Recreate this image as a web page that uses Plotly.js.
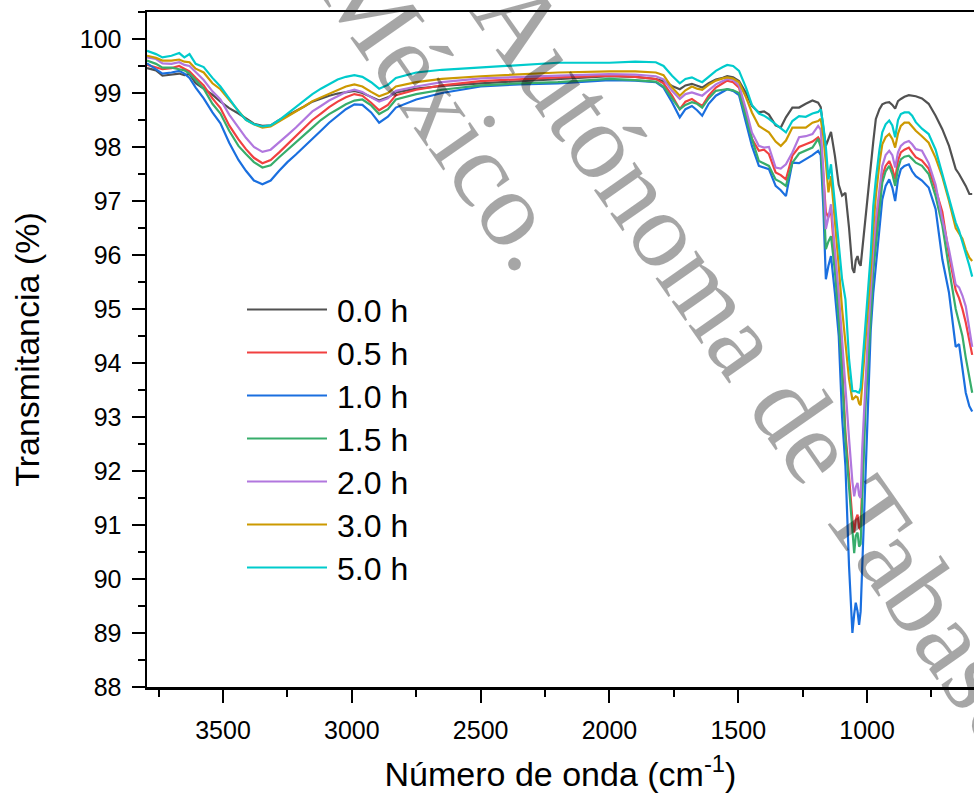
<!DOCTYPE html>
<html>
<head>
<meta charset="utf-8">
<script src="https://cdn.plot.ly/plotly-3.0.1.min.js"></script>
<style>
  html, body { margin: 0; padding: 0; background: #ffffff; }
  #chart { width: 974px; height: 796px; }
</style>
</head>
<body>
<div id="chart"></div>
<script>
// FTIR transmittance spectra, wavenumber in cm-1
const wavenumber = [3795, 3760, 3735, 3700, 3670, 3650, 3630, 3606, 3575, 3541,
  3510, 3476, 3440, 3411, 3380, 3347, 3315, 3282, 3250, 3217,
  3185, 3153, 3120, 3088, 3055, 3023, 2990, 2959, 2925, 2894,
  2860, 2829, 2750, 2650, 2500, 2350, 2200, 2000, 1900, 1820,
  1790, 1757, 1727, 1705, 1680, 1660, 1640, 1615, 1587, 1560,
  1543, 1520, 1497, 1470, 1447, 1420, 1400, 1381, 1355, 1335,
  1315, 1290, 1264, 1238, 1212, 1190, 1180, 1170, 1160, 1150,
  1140, 1125, 1110, 1097, 1084, 1070, 1057, 1050, 1044, 1037,
  1031, 1025, 1019, 1011, 1005, 998, 986, 976, 966, 952,
  941, 928, 914, 902, 891, 880, 869, 855, 838, 825,
  811, 787, 761, 734, 708, 682, 656, 643, 630, 617,
  603, 592];

const t00 = [99.46, 99.42, 99.32, 99.34, 99.36, 99.33, 99.35, 99.18, 99.08, 98.97,
  98.84, 98.72, 98.62, 98.52, 98.43, 98.39, 98.40, 98.50, 98.58, 98.66,
  98.75, 98.84, 98.90, 98.95, 98.99, 99.02, 99.04, 99.00, 98.92, 98.86,
  98.92, 99.01, 99.08, 99.13, 99.18, 99.22, 99.26, 99.31, 99.30, 99.26,
  99.22, 99.13, 99.07, 99.14, 99.17, 99.13, 99.10, 99.18, 99.25, 99.28,
  99.31, 99.29, 99.22, 99.00, 98.76, 98.64, 98.66, 98.60, 98.40, 98.36,
  98.55, 98.73, 98.73, 98.80, 98.86, 98.82, 98.74, 98.35, 98.02, 98.15,
  98.28, 97.84, 97.30, 97.10, 97.15, 96.50, 95.75, 95.67, 95.90, 95.98,
  95.85, 95.80, 96.10, 96.45, 96.66, 97.10, 97.65, 98.10, 98.52, 98.70,
  98.79, 98.82, 98.83, 98.78, 98.71, 98.85, 98.89, 98.93, 98.96, 98.95,
  98.94, 98.90, 98.80, 98.58, 98.33, 98.02, 97.59, 97.50, 97.40, 97.28,
  97.13, 97.13];

const t05 = [99.52, 99.48, 99.44, 99.46, 99.50, 99.45, 99.40, 99.28, 99.14, 98.90,
  98.72, 98.40, 98.14, 97.96, 97.80, 97.70, 97.76, 97.90, 98.05, 98.20,
  98.36, 98.50, 98.62, 98.74, 98.84, 98.92, 98.98, 98.95, 98.82, 98.68,
  98.78, 98.96, 99.06, 99.14, 99.22, 99.26, 99.29, 99.32, 99.30, 99.26,
  99.18, 98.95, 98.70, 98.84, 98.89, 98.82, 98.76, 98.95, 99.10, 99.18,
  99.23, 99.20, 99.10, 98.62, 98.15, 97.93, 97.95, 97.87, 97.53, 97.48,
  97.40, 97.84, 98.00, 98.05, 98.10, 98.18, 98.10, 97.50, 96.79, 96.70,
  96.85, 95.90, 95.00, 94.00, 92.71, 91.90, 91.10, 90.86, 91.10, 91.19,
  90.95, 90.91, 91.78, 92.80, 93.63, 94.00, 95.10, 95.90, 96.42, 97.05,
  97.46, 97.65, 97.74, 97.60, 97.40, 97.75, 97.90, 97.95, 97.99, 97.90,
  97.81, 97.75, 97.60, 97.22, 96.80, 96.00, 95.35, 95.20, 95.00, 94.75,
  94.40, 94.15];

const t10 = [99.55, 99.44, 99.36, 99.38, 99.41, 99.36, 99.28, 99.10, 98.90, 98.64,
  98.44, 98.08, 97.76, 97.56, 97.38, 97.31, 97.38, 97.56, 97.72, 97.86,
  98.00, 98.15, 98.30, 98.45, 98.58, 98.70, 98.79, 98.78, 98.64, 98.45,
  98.56, 98.73, 98.88, 99.00, 99.12, 99.16, 99.18, 99.24, 99.23, 99.20,
  99.10, 98.83, 98.55, 98.70, 98.76, 98.68, 98.58, 98.80, 98.95, 99.03,
  99.07, 99.04, 98.96, 98.45, 98.02, 97.65, 97.62, 97.59, 97.28, 97.20,
  97.09, 97.71, 97.70, 97.77, 97.85, 97.93, 97.85, 96.90, 95.55, 95.80,
  95.98, 95.30, 94.50, 93.00, 92.09, 90.23, 89.00, 89.35, 89.56, 89.40,
  89.15, 89.40, 90.20, 91.20, 92.20, 93.30, 94.60, 95.30, 95.80, 96.55,
  97.03, 97.28, 97.40, 97.25, 97.00, 97.40, 97.59, 97.65, 97.68, 97.55,
  97.46, 97.38, 97.25, 96.85, 95.92, 95.30, 94.30, 94.35, 93.90, 93.45,
  93.20, 93.10];

const t15 = [99.60, 99.54, 99.47, 99.47, 99.44, 99.42, 99.36, 99.24, 99.08, 98.80,
  98.62, 98.30, 98.02, 97.87, 97.72, 97.62, 97.66, 97.81, 97.95, 98.08,
  98.22, 98.36, 98.50, 98.61, 98.70, 98.79, 98.86, 98.88, 98.77, 98.61,
  98.70, 98.88, 98.98, 99.06, 99.14, 99.18, 99.20, 99.26, 99.24, 99.21,
  99.12, 98.89, 98.70, 98.78, 98.83, 98.80, 98.73, 98.90, 99.04, 99.06,
  99.07, 99.05, 99.00, 98.55, 98.15, 97.74, 97.70, 97.65, 97.40, 97.35,
  97.28, 97.71, 97.88, 97.93, 97.99, 98.15, 98.00, 97.20, 96.11, 96.25,
  96.35, 95.70, 94.80, 93.81, 92.58, 91.70, 90.90, 90.48, 90.80, 90.86,
  90.60, 90.65, 91.47, 92.50, 93.32, 93.80, 94.90, 95.70, 96.17, 96.85,
  97.34, 97.55, 97.65, 97.50, 97.28, 97.60, 97.77, 97.82, 97.84, 97.78,
  97.71, 97.65, 97.50, 97.09, 96.55, 95.75, 95.00, 94.75, 94.50, 94.10,
  93.70, 93.45];

const t20 = [99.66, 99.63, 99.55, 99.54, 99.57, 99.52, 99.50, 99.38, 99.24, 99.03,
  98.88, 98.60, 98.35, 98.17, 98.00, 97.91, 97.95, 98.08, 98.22, 98.36,
  98.52, 98.66, 98.76, 98.86, 98.94, 99.02, 99.06, 99.02, 98.92, 98.84,
  98.90, 99.04, 99.12, 99.20, 99.27, 99.30, 99.32, 99.35, 99.34, 99.31,
  99.25, 99.04, 98.89, 98.98, 99.01, 98.98, 98.95, 99.05, 99.16, 99.22,
  99.26, 99.24, 99.14, 98.70, 98.27, 98.02, 97.99, 98.00, 97.62, 97.60,
  97.68, 97.90, 98.18, 98.20, 98.24, 98.39, 98.32, 97.60, 96.48, 96.70,
  96.94, 96.10, 95.30, 94.44, 93.45, 92.60, 91.80, 91.53, 91.70, 91.78,
  91.55, 91.50, 92.40, 93.20, 93.94, 94.40, 95.30, 96.10, 96.66, 97.25,
  97.65, 97.85, 97.93, 97.85, 97.62, 97.90, 98.02, 98.08, 98.11, 98.05,
  97.96, 97.93, 97.70, 97.30, 96.66, 96.10, 95.45, 95.40, 95.25, 95.05,
  94.60, 94.30];

const t30 = [99.69, 99.65, 99.60, 99.60, 99.62, 99.58, 99.57, 99.45, 99.38, 99.18,
  99.07, 98.88, 98.66, 98.50, 98.42, 98.36, 98.38, 98.47, 98.57, 98.66,
  98.75, 98.85, 98.92, 98.99, 99.06, 99.12, 99.16, 99.12, 99.02, 98.94,
  99.00, 99.12, 99.20, 99.26, 99.31, 99.34, 99.38, 99.40, 99.40, 99.38,
  99.33, 99.10, 98.95, 99.05, 99.12, 99.08, 99.06, 99.15, 99.23, 99.27,
  99.29, 99.27, 99.20, 98.92, 98.64, 98.39, 98.33, 98.27, 98.10, 98.02,
  98.12, 98.36, 98.36, 98.36, 98.45, 98.48, 98.52, 98.20, 97.71, 97.16,
  97.46, 96.70, 95.80, 95.00, 94.40, 93.70, 93.32, 93.35, 93.38, 93.36,
  93.25, 93.22, 93.60, 94.00, 94.50, 94.90, 95.70, 96.50, 97.09, 97.70,
  98.05, 98.18, 98.24, 98.15, 97.99, 98.25, 98.39, 98.45, 98.45, 98.38,
  98.30, 98.20, 98.08, 97.80, 97.45, 97.00, 96.50, 96.40, 96.30, 96.10,
  95.95, 95.89];

const t50 = [99.78, 99.72, 99.66, 99.69, 99.74, 99.66, 99.72, 99.54, 99.48, 99.28,
  99.12, 98.90, 98.66, 98.50, 98.42, 98.38, 98.40, 98.50, 98.62, 98.74,
  98.86, 98.98, 99.08, 99.16, 99.25, 99.30, 99.33, 99.30, 99.20, 99.08,
  99.15, 99.28, 99.38, 99.43, 99.47, 99.51, 99.56, 99.56, 99.58, 99.57,
  99.50, 99.32, 99.18, 99.26, 99.29, 99.24, 99.20, 99.30, 99.41, 99.48,
  99.52, 99.50, 99.41, 99.10, 98.78, 98.62, 98.58, 98.52, 98.42, 98.33,
  98.27, 98.48, 98.57, 98.56, 98.62, 98.65, 98.70, 98.40, 98.00, 97.40,
  97.68, 96.95, 96.15, 95.55, 95.18, 94.07, 93.48, 93.48, 93.48, 93.46,
  93.45, 93.54, 93.94, 94.30, 94.80, 95.20, 96.00, 96.90, 97.40, 97.95,
  98.27, 98.42, 98.49, 98.40, 98.18, 98.50, 98.61, 98.64, 98.64, 98.58,
  98.46, 98.34, 98.24, 97.95, 97.50, 97.00, 96.60, 96.45, 96.25, 96.05,
  95.80, 95.60];

const seriesNames = ['0.0 h', '0.5 h', '1.0 h', '1.5 h', '2.0 h', '3.0 h', '5.0 h'];
const seriesColors = ['#515151', '#F14040', '#1A6FDF', '#37AD6B', '#B177DE', '#CC9900', '#00CBCC'];
const seriesValues = [t00, t05, t10, t15, t20, t30, t50];

// plot box in pixels
const W = 974, H = 796;
const M = { l: 147, r: 0, t: 12, b: 109 };
const plotW = W - M.l - M.r;
const plotH = H - M.t - M.b;
const px2x = p => (p - M.l) / plotW;
const px2y = p => 1 - (p - M.t) / plotH;

const traces = seriesValues.map((vals, i) => ({
  type: 'scatter',
  mode: 'lines',
  x: wavenumber,
  y: vals,
  name: seriesNames[i],
  line: { color: seriesColors[i], width: 2.2 },
  showlegend: false,
  hoverinfo: 'skip'
}));

// legend: long line samples with labels to their right
const legendShapes = [];
const legendLabels = [];
seriesNames.forEach((name, i) => {
  const yPix = 309.5 + i * 43;
  legendShapes.push({
    type: 'line', xref: 'paper', yref: 'paper',
    x0: px2x(247), x1: px2x(327), y0: px2y(yPix), y1: px2y(yPix),
    line: { color: seriesColors[i], width: 2.2 }
  });
  legendLabels.push({
    xref: 'paper', yref: 'paper', x: px2x(335), y: px2y(yPix + 1),
    xanchor: 'left', yanchor: 'middle', showarrow: false,
    text: name, font: { size: 32, color: '#000', family: 'Liberation Sans, Arial, sans-serif' }
  });
});

// watermark, two centred lines rotated across the plot
const watermarkFont = { family: 'Liberation Serif, Times New Roman, serif', size: 108, color: 'rgba(0,0,0,0.35)' };
const watermark = [
  { text: 'Universidad Juárez Autónoma de Tabasco.', x: px2x(538), y: px2y(46) },
  { text: 'México.', x: px2x(446), y: px2y(110) }
].map(w => ({
  xref: 'paper', yref: 'paper', x: w.x, y: w.y, xanchor: 'center', yanchor: 'middle',
  showarrow: false, textangle: 55, text: w.text, font: watermarkFont
}));

const axisFont = { family: 'Liberation Sans, Arial, sans-serif', size: 25, color: '#000' };
const titleFont = { family: 'Liberation Sans, Arial, sans-serif', size: 34, color: '#000' };

const layout = {
  width: W, height: H,
  margin: { l: M.l, r: M.r, t: M.t, b: M.b, pad: 0 },
  paper_bgcolor: '#ffffff', plot_bgcolor: '#ffffff',
  font: axisFont,
  showlegend: false,
  xaxis: {
    range: [3795, 585], autorange: false,
    tick0: 0, dtick: 500,
    ticks: 'outside', ticklen: 13, tickwidth: 2, tickcolor: '#000',
    showline: true, linewidth: 2.5, linecolor: '#000', mirror: true,
    showgrid: false, zeroline: false,
    tickfont: axisFont, ticklabelstandoff: 6,
    minor: { dtick: 250, tick0: 0, ticks: 'outside', ticklen: 7, tickwidth: 2, tickcolor: '#000', showgrid: false },
    title: { text: 'Número de onda (cm<sup>-1</sup>)', font: titleFont, standoff: 20 }
  },
  yaxis: {
    range: [88, 100.5], autorange: false,
    tick0: 88, dtick: 1,
    ticks: 'outside', ticklen: 13, tickwidth: 2, tickcolor: '#000',
    showline: true, linewidth: 2.5, linecolor: '#000', mirror: false,
    showgrid: false, zeroline: false,
    tickfont: axisFont, ticklabelstandoff: 5,
    minor: { dtick: 0.5, tick0: 88, ticks: 'outside', ticklen: 7, tickwidth: 2, tickcolor: '#000', showgrid: false },
    title: { text: 'Transmitancia (%)', font: titleFont, standoff: 30 }
  },
  shapes: legendShapes,
  annotations: legendLabels.concat(watermark)
};

Plotly.newPlot('chart', traces, layout, { staticPlot: true, displayModeBar: false });
</script>
</body>
</html>
